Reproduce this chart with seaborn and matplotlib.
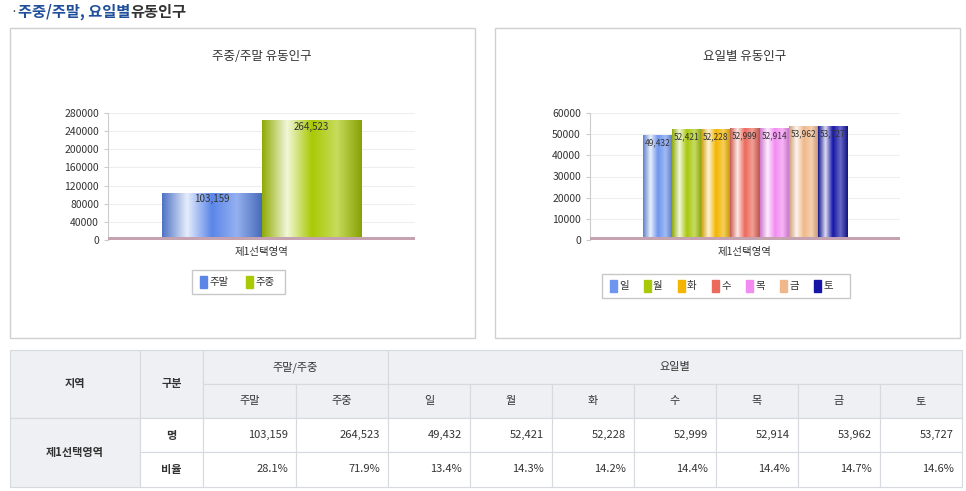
import matplotlib
matplotlib.use("Agg")
import matplotlib.pyplot as plt
from matplotlib.colors import LinearSegmentedColormap, to_rgb
from matplotlib.patches import Rectangle
import numpy as np
import pandas as pd
import seaborn as sns

plt.rcParams["font.family"] = ["Noto Sans CJK KR", "Noto Sans CJK SC", "Noto Sans CJK JP", "DejaVu Sans"]

region = "제1선택영역"
week_labels = ["주말", "주중"]
week_values = [103159, 264523]
week_ratio = ["28.1%", "71.9%"]
day_labels = ["일", "월", "화", "수", "목", "금", "토"]
day_values = [49432, 52421, 52228, 52999, 52914, 53962, 53727]
day_ratio = ["13.4%", "14.3%", "14.2%", "14.4%", "14.4%", "14.7%", "14.6%"]
week_colors = ["#5b86e8", "#a9c905"]
day_colors = ["#6e96ee", "#a8c80c", "#f3b500", "#ec6a5c", "#f28cf2", "#f0b88a", "#1616a6"]

W, H = 966, 491
fig = plt.figure(figsize=(W / 100, H / 100), dpi=100)
bg = fig.add_axes([0, 0, 1, 1])
bg.set_xlim(0, W); bg.set_ylim(H, 0); bg.axis("off")

fig.text(10 / W, 1 - 12 / H, "·", fontsize=9, color="#333", va="center")
fig.text(18 / W, 1 - 12 / H, "주중/주말, 요일별", fontsize=11, color="#1f4e9a", weight="bold", va="center")
fig.text(130 / W, 1 - 12 / H, "유동인구", fontsize=11, color="#333", weight="bold", va="center")

for x0 in (10, 495):
    bg.add_patch(Rectangle((x0, 28), 465, 310, fill=False, ec="#d0d0d0", lw=1))


def ax_px(l, t, r, b):
    return fig.add_axes([l / W, 1 - b / H, (r - l) / W, (b - t) / H])


def shade(ax, colors):
    for patch, c in zip(ax.patches, colors):
        x, y = patch.get_x(), patch.get_y()
        w, h = patch.get_width(), patch.get_height()
        base = np.array(to_rgb(c))
        light = base + (1 - base) * 0.85
        cm = LinearSegmentedColormap.from_list("g", [base * 0.85, light, base, base + (1 - base) * 0.35, base * 0.8])
        grad = np.linspace(0, 1, 256).reshape(1, -1)
        im = ax.imshow(grad, extent=[x, x + w, y, y + h], aspect="auto", cmap=cm, zorder=3)
        im.set_clip_path(patch)
        patch.set_zorder(2)


def style(ax, ymax, step, title, xl):
    ax.set_ylim(0, ymax)
    ax.set_yticks(np.arange(0, ymax + 1, step))
    ax.set_xlim(*xl)
    ax.grid(axis="y", color="#eeeeee", lw=0.8)
    ax.set_axisbelow(True)
    for s in ("top", "right"):
        ax.spines[s].set_visible(False)
    ax.spines["left"].set_color("#cccccc")
    ax.spines["bottom"].set_visible(False)
    ax.axhline(0, color="#c4a2b0", lw=5, zorder=5, xmin=0, xmax=1)
    ax.tick_params(axis="y", labelsize=7.5, colors="#333", length=3, color="#ccc")
    ax.tick_params(axis="x", labelsize=7.5, colors="#333", length=0, pad=5)
    ax.set_xlabel(""); ax.set_ylabel("")
    ax.set_title(title, fontsize=9, color="#333", pad=38)
    if ax.get_legend():
        ax.get_legend().remove()


ax1 = ax_px(108, 113, 415, 240)
df1 = pd.DataFrame({"region": region, "type": week_labels, "value": week_values})
sns.barplot(data=df1, x="region", y="value", hue="type", palette=week_colors, ax=ax1, width=0.8, saturation=1)
style(ax1, 280000, 40000, "주중/주말 유동인구", (-0.617, 0.617))
shade(ax1, week_colors)
for p, v in zip(ax1.patches, week_values):
    ax1.text(p.get_x() + p.get_width() / 2, v * 0.98, f"{v:,}", ha="center", va="top", fontsize=7, color="#333", zorder=6)

ax2 = ax_px(590, 113, 900, 240)
df2 = pd.DataFrame({"region": region, "day": day_labels, "value": day_values})
sns.barplot(data=df2, x="region", y="value", hue="day", palette=day_colors, ax=ax2, width=0.8, saturation=1)
style(ax2, 60000, 10000, "요일별 유동인구", (-0.608, 0.608))
shade(ax2, day_colors)
for p, v in zip(ax2.patches, day_values):
    ax2.text(p.get_x() + p.get_width() / 2, v * 0.97, f"{v:,}", ha="center", va="top", fontsize=6, color="#333", zorder=6)


def legend_box(x0, y0, w, labels, colors, step):
    bg.add_patch(Rectangle((x0, y0), w, 24, fill=False, ec="#c8c8c8", lw=1))
    for i, (lab, c) in enumerate(zip(labels, colors)):
        lx = x0 + 8 + i * step
        bg.add_patch(Rectangle((lx, y0 + 6), 7, 12, color=c))
        bg.text(lx + 9, y0 + 12, lab, fontsize=7.5, va="center", color="#333")

legend_box(192, 270, 93, week_labels, week_colors, 46)
legend_box(602, 274, 248, day_labels, day_colors, 34)

cols = [10, 140, 203, 296, 388, 470, 552, 634, 716, 798, 880, 962]
rows = [350, 384, 418, 452, 487]
hdr = "#eef0f3"
tc = "#333"
def cell(x0, x1, y0, y1, text, fill="white", bold=False):
    bg.add_patch(Rectangle((x0, y0), x1 - x0, y1 - y0, fc=fill, ec="#d6d9de", lw=0.8))
    bg.text((x0 + x1) / 2, (y0 + y1) / 2, text, ha="center", va="center", fontsize=8,
            color=tc, weight="bold" if bold else "normal")
def rcell(x0, x1, y0, y1, text):
    bg.add_patch(Rectangle((x0, y0), x1 - x0, y1 - y0, fc="white", ec="#d6d9de", lw=0.8))
    bg.text(x1 - 8, (y0 + y1) / 2, text, ha="right", va="center", fontsize=8, color=tc)

cell(cols[0], cols[1], rows[0], rows[2], "지역", hdr, True)
cell(cols[1], cols[2], rows[0], rows[2], "구분", hdr, True)
cell(cols[2], cols[4], rows[0], rows[1], "주말/주중", hdr)
cell(cols[4], cols[11], rows[0], rows[1], "요일별", hdr)
for i, lab in enumerate(week_labels + day_labels):
    cell(cols[2 + i], cols[3 + i], rows[1], rows[2], lab, hdr)
cell(cols[0], cols[1], rows[2], rows[4], region, hdr, True)
cell(cols[1], cols[2], rows[2], rows[3], "명", "white", True)
cell(cols[1], cols[2], rows[3], rows[4], "비율", "white", True)
vals = week_values + day_values
rats = week_ratio + day_ratio
for i in range(9):
    rcell(cols[2 + i], cols[3 + i], rows[2], rows[3], f"{vals[i]:,}")
    rcell(cols[2 + i], cols[3 + i], rows[3], rows[4], rats[i])

fig.savefig("out.png", dpi=100)
